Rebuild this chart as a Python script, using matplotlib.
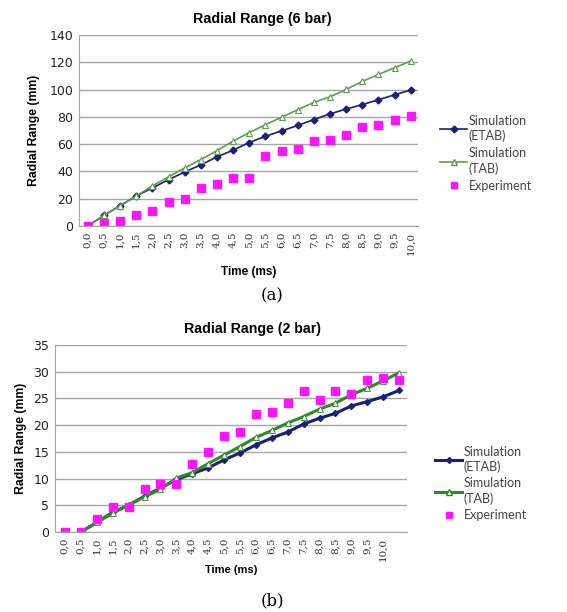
import numpy as np
import matplotlib
matplotlib.use("Agg")
import matplotlib.pyplot as plt
from matplotlib.lines import Line2D

# ---------------- data ----------------
time_labels = ["0,0", "0,5", "1,0", "1,5", "2,0", "2,5", "3,0", "3,5", "4,0", "4,5", "5,0",
               "5,5", "6,0", "6,5", "7,0", "7,5", "8,0", "8,5", "9,0", "9,5", "10,0"]

# Panel (a): 6 bar
etab_6bar = [0, 7.8, 14.9, 22.0, 27.9, 34.0, 39.6, 44.8, 50.7, 55.6, 61.2,
             65.8, 69.7, 73.7, 78.0, 82.2, 85.7, 89.0, 92.5, 96.2, 99.6]
tab_6bar = [0, 7.8, 15.0, 22.0, 29.4, 36.0, 42.6, 48.7, 55.3, 62.2, 68.5,
            74.2, 79.8, 85.2, 90.6, 94.7, 100.1, 106.0, 111.1, 116.0, 120.9]
exp_6bar = [0, 2.0, 3.7, 8.0, 11.3, 17.4, 20.0, 28.1, 31.0, 35.2, 35.2,
            51.4, 54.8, 56.3, 62.4, 63.4, 66.8, 72.2, 73.9, 77.8, 80.3]

# Panel (b): 2 bar (22 category slots; simulations start at the second slot)
etab_2bar = [0, 1.8, 3.7, 5.0, 6.7, 8.2, 9.8, 10.9, 12.0, 13.5, 14.8,
             16.3, 17.6, 18.7, 20.2, 21.3, 22.2, 23.6, 24.4, 25.3, 26.5]
tab_2bar = [0, 1.8, 3.5, 5.1, 6.6, 8.0, 10.1, 11.1, 12.8, 14.4, 16.0,
            17.7, 19.0, 20.4, 21.6, 23.0, 24.1, 25.7, 26.9, 28.3, 29.8]
exp_2bar = [0, 0, 2.5, 4.7, 4.7, 8.0, 9.0, 9.0, 12.7, 14.9, 17.9,
            18.7, 22.0, 22.4, 24.2, 26.4, 24.7, 26.4, 25.8, 28.4, 28.9, 28.4]

W, H = 567, 612
fig = plt.figure(figsize=(W / 100, H / 100), dpi=100)
fig.patch.set_facecolor("white")

NAVY = "#1c1f78"
GREEN_A = "#5aa04a"
GREEN_B = "#2f8a25"
MAG = "#ff14ff"
GRID = "#a6a6a6"

def px_axes(left, right, top, bottom):
    return fig.add_axes([left / W, (H - bottom) / H, (right - left) / W, (bottom - top) / H])

def style(ax, yticks, ymax):
    ax.set_ylim(0, ymax)
    ax.set_yticks(yticks)
    ax.yaxis.grid(True, color=GRID, lw=1.0)
    ax.set_axisbelow(True)
    for s in ["top", "right"]:
        ax.spines[s].set_visible(False)
    ax.spines["left"].set_color(GRID)
    ax.spines["bottom"].set_color(GRID)
    ax.tick_params(axis="y", length=0, pad=4, labelsize=9, labelcolor="#222222")
    ax.tick_params(axis="x", length=0, pad=4)

# ---------------- panel (a) ----------------
ax1 = px_axes(79, 418, 35, 226)
xa = np.arange(len(time_labels))
ax1.plot(xa, etab_6bar, color=NAVY, lw=1.2, marker="D", ms=3.5, mfc=NAVY, mec=NAVY)
ax1.plot(xa, tab_6bar, color=GREEN_A, lw=1.2, marker="^", ms=4, mfc="white", mec=GREEN_A, mew=0.8)
ax1.plot(xa, exp_6bar, ls="none", marker="s", ms=6, color=MAG)
ax1.set_xlim(-0.55, 20.45)
style(ax1, np.arange(0, 141, 20), 140)
ax1.set_xticks(xa)
ax1.set_xticklabels(time_labels, rotation=90, fontsize=7.5, family="DejaVu Serif", color="#333333")
ax1.set_title("Radial Range (6 bar)", fontsize=10.3, fontweight="bold", pad=9,
              family="Liberation Sans", x=0.54)
ax1.set_ylabel("Radial Range (mm)", fontsize=8.8, fontweight="bold", family="Liberation Sans", labelpad=7)
ax1.set_xlabel("Time (ms)", fontsize=8.5, fontweight="bold", family="Liberation Sans", labelpad=8)

handles_a = [
    Line2D([], [], color=NAVY, lw=1.2, marker="D", ms=3.5),
    Line2D([], [], color=GREEN_A, lw=1.2, marker="^", ms=4, mfc="white", mec=GREEN_A),
    Line2D([], [], ls="none", marker="s", ms=5, color=MAG),
]
leg = ax1.legend(handles_a, ["Simulation\n(ETAB)", "Simulation\n(TAB)", "Experiment"],
                 loc="center left", bbox_to_anchor=(1.05, 0.38), frameon=False,
                 prop={"family": "Lato", "size": 9}, handlelength=2.2, handletextpad=0.1,
                 labelspacing=0.4, borderaxespad=0)
for t in leg.get_texts():
    t.set_color("#444444")
    t.set_linespacing(1.25)
fig.text(272 / W, 1 - 296 / H, "(a)", ha="center", va="center", fontsize=12, family="DejaVu Serif")

# ---------------- panel (b) ----------------
ax2 = px_axes(55, 407, 345, 532)
xb_sim = np.arange(1, len(etab_2bar) + 1)
xb_exp = np.arange(len(exp_2bar))
ax2.plot(xb_sim, etab_2bar, color=NAVY, lw=2.2, marker="D", ms=3, mfc=NAVY, mec=NAVY)
ax2.plot(xb_sim, tab_2bar, color=GREEN_B, lw=2.2, marker="^", ms=4.5, mfc="white", mec=GREEN_B, mew=0.6)
ax2.plot(xb_exp, exp_2bar, ls="none", marker="s", ms=6, color=MAG)
ax2.set_xlim(-0.63, 21.5)
style(ax2, np.arange(0, 36, 5), 35)
ax2.set_xticks(np.arange(len(time_labels)))
ax2.set_xticklabels(time_labels, rotation=90, fontsize=7.5, family="DejaVu Serif", color="#333333")
ax2.set_title("Radial Range (2 bar)", fontsize=10.2, fontweight="bold", pad=9,
              family="Liberation Sans", x=0.56)
ax2.set_ylabel("Radial Range (mm)", fontsize=8.8, fontweight="bold", family="Liberation Sans", labelpad=5)
ax2.set_xlabel("Time (ms)", fontsize=8, fontweight="bold", family="Liberation Sans", labelpad=3)

handles_b = [
    Line2D([], [], color=NAVY, lw=2.2, marker="D", ms=3),
    Line2D([], [], color=GREEN_B, lw=2.2, marker="^", ms=4.5, mfc="white", mec=GREEN_B),
    Line2D([], [], ls="none", marker="s", ms=5, color=MAG),
]
leg2 = ax2.legend(handles_b, ["Simulation\n(ETAB)", "Simulation\n(TAB)", "Experiment"],
                  loc="center left", bbox_to_anchor=(1.065, 0.26), frameon=False,
                  prop={"family": "Lato", "size": 9}, handlelength=2.2, handletextpad=0.1,
                  labelspacing=0.35, borderaxespad=0)
for t in leg2.get_texts():
    t.set_color("#444444")
    t.set_linespacing(1.25)
fig.text(272 / W, 1 - 601 / H, "(b)", ha="center", va="center", fontsize=12, family="DejaVu Serif")

fig.savefig("out.png", dpi=100, facecolor="white")
